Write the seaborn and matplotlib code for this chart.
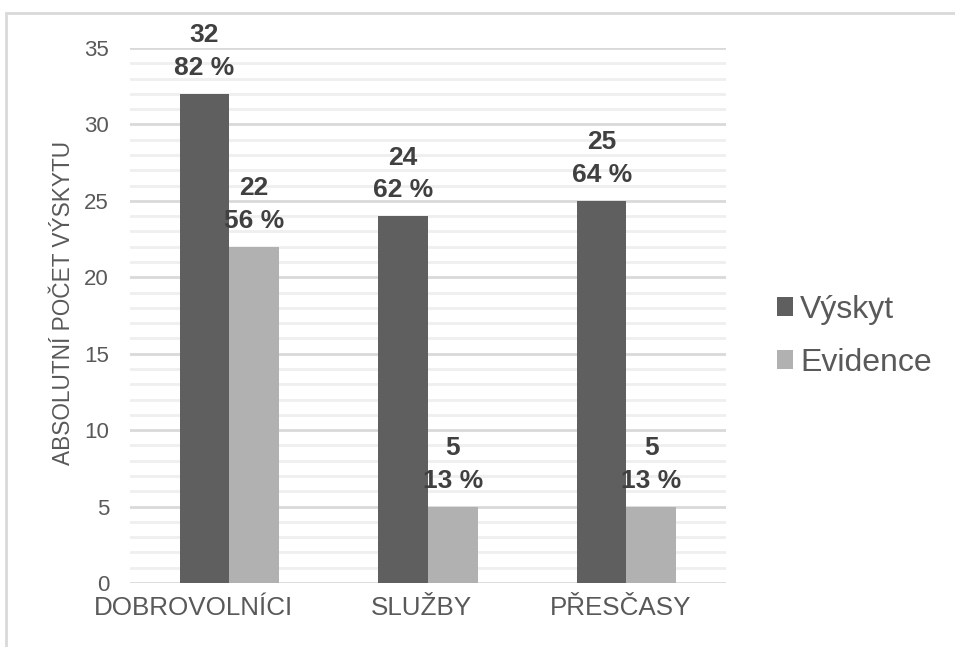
import matplotlib
matplotlib.use("Agg")
import matplotlib.pyplot as plt
from matplotlib.patches import Patch, Rectangle
from matplotlib.ticker import MultipleLocator
from matplotlib.transforms import ScaledTranslation
import seaborn as sns
import pandas as pd

categories = ["DOBROVOLNÍCI", "SLUŽBY", "PŘESČASY"]
series_names = ["Výskyt", "Evidence"]
vyskyt = [32, 24, 25]
evidence = [22, 5, 5]
vyskyt_pct = [82, 62, 64]
evidence_pct = [56, 13, 13]
y_label = "ABSOLUTNÍ POČET VÝSKYTU"

colors = ["#5f5f5f", "#b1b1b1"]
text_grey = "#595959"
label_grey = "#404040"

df = pd.DataFrame({
    "kategorie": categories * 2,
    "serie": [series_names[0]] * 3 + [series_names[1]] * 3,
    "hodnota": vyskyt + evidence,
    "procenta": vyskyt_pct + evidence_pct,
})

sns.set_theme(style="white")
plt.rcParams["font.family"] = ["Liberation Sans", "DejaVu Sans"]

DPI = 100
fig = plt.figure(figsize=(9.55, 6.47), dpi=DPI)
ax = fig.add_axes([0.136, 0.0989, 0.624, 0.8269])

sns.barplot(data=df, x="kategorie", y="hodnota", hue="serie",
            order=categories, hue_order=series_names, palette=colors,
            width=0.5, gap=0, saturation=1, ax=ax, legend=False,
            linewidth=0, zorder=3)

ax.set_ylim(0, 35)
ax.set_xlim(-0.5, 2.5)
ax.yaxis.set_major_locator(MultipleLocator(5))
ax.yaxis.set_minor_locator(MultipleLocator(1))
ax.grid(axis="y", which="major", color="#d9d9d9", linewidth=2.0, zorder=0)
ax.grid(axis="y", which="minor", color="#efefef", linewidth=2.0, zorder=0)
ax.grid(axis="x", visible=False)
ax.set_axisbelow(True)
for s in ax.spines.values():
    s.set_visible(False)

ax.tick_params(axis="y", which="both", length=0, pad=15, labelsize=16,
               labelcolor=text_grey)
ax.tick_params(axis="x", length=0, pad=9, labelsize=18.7, labelcolor=text_grey)

# nudge category labels sideways (pixels)
x_shift_px = [-36, -6, -6]
for lab, dx in zip(ax.get_xticklabels(), x_shift_px):
    lab.set_transform(lab.get_transform() +
                      ScaledTranslation(dx / DPI, 0, fig.dpi_scale_trans))

ax.set_xlabel("")
ax.set_ylabel(y_label, fontsize=16.3, color=text_grey)
ax.yaxis.set_label_coords(-0.092, 0.524)

# value and share above each bar
for container, name in zip(ax.containers, series_names):
    sub = df[df["serie"] == name].set_index("kategorie").loc[categories]
    labels = [f"{v}\n{p} %" for v, p in zip(sub["hodnota"], sub["procenta"])]
    ax.bar_label(container, labels=labels, padding=10, fontsize=19,
                 fontweight="bold", color=label_grey, linespacing=1.45)

handles = [Patch(facecolor=c, edgecolor="none") for c in colors]
leg = fig.legend(handles, series_names, loc="center left",
                 bbox_to_anchor=(777 / 955, 0.480), frameon=False, fontsize=23,
                 handlelength=0.5, handleheight=0.5, handletextpad=0.22,
                 labelspacing=0.72, borderaxespad=0, borderpad=0)
for t in leg.get_texts():
    t.set_color(text_grey)

# outer chart frame
fig.patches.append(Rectangle((6 / 955, -0.05), 1.1, (647 - 13) / 647 + 0.05,
                             transform=fig.transFigure, fill=False,
                             edgecolor="#d9d9d9", linewidth=2))

fig.savefig("out.png", dpi=DPI)
